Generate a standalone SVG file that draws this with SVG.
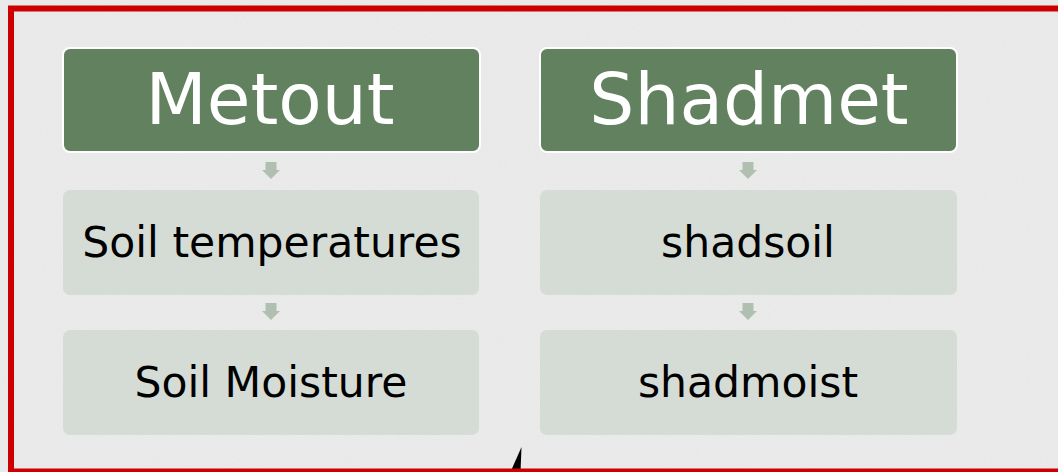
<svg xmlns="http://www.w3.org/2000/svg" width="1058" height="472" viewBox="0 0 1058 472">
  <defs>
    <filter id="grain" x="0" y="0" width="100%" height="100%">
      <feTurbulence type="fractalNoise" baseFrequency="0.9" numOctaves="2" seed="3" result="n"/>
      <feColorMatrix in="n" type="matrix" values="0 0 0 0 0.55  0 0 0 0 0.55  0 0 0 0 0.55  0 0 0 0.35 0"/>
    </filter>
    <g id="arrow">
      <rect x="-5.5" y="0" width="11" height="9" class="arr"/>
      <polygon points="-9,8 9,8 0,17" class="arr"/>
    </g>
  </defs>
  <style>
    .head { fill: #61815f; stroke: #ffffff; stroke-width: 2; }
    .body { fill: #d5dcd5; }
    .arr { fill: #b0bfb0; }
    .ht { font-family: "DejaVu Sans", Verdana, sans-serif; font-size: 71px; fill: #ffffff; text-anchor: middle; }
    .bt { font-family: "DejaVu Sans", Verdana, sans-serif; font-size: 42.5px; fill: #000000; text-anchor: middle; }
  </style>
  <rect x="0" y="0" width="1058" height="472" fill="#ededed"/>
  <rect x="0" y="0" width="1058" height="472" filter="url(#grain)" opacity="0.45"/>

  <g id="connectors">
    <use href="#arrow" x="271" y="162"/>
    <use href="#arrow" x="271" y="303"/>
    <use href="#arrow" x="748" y="162"/>
    <use href="#arrow" x="748" y="303"/>
  </g>

  <g id="metout">
    <rect x="63" y="48" width="417" height="104" rx="7" class="head"/>
    <text x="270" y="124" class="ht">Metout</text>
  </g>
  <g id="shadmet">
    <rect x="540" y="48" width="417" height="104" rx="7" class="head"/>
    <text x="749" y="124" class="ht">Shadmet</text>
  </g>
  <g id="soil-temperatures">
    <rect x="63" y="190" width="416" height="105" rx="7" class="body"/>
    <text x="272" y="257" class="bt">Soil temperatures</text>
  </g>
  <g id="soil-moisture">
    <rect x="63" y="330" width="416" height="105" rx="7" class="body"/>
    <text x="271" y="397" class="bt">Soil Moisture</text>
  </g>
  <g id="shadsoil">
    <rect x="540" y="190" width="417" height="105" rx="7" class="body"/>
    <text x="748" y="257" class="bt">shadsoil</text>
  </g>
  <g id="shadmoist">
    <rect x="540" y="330" width="417" height="105" rx="7" class="body"/>
    <text x="748" y="397" class="bt">shadmoist</text>
  </g>

  <polygon points="521.5,447 520.5,472 510.5,472" fill="#000000"/>
  <rect x="11" y="8.5" width="1060" height="463" fill="none" stroke="#cc0000" stroke-width="6"/>
</svg>
